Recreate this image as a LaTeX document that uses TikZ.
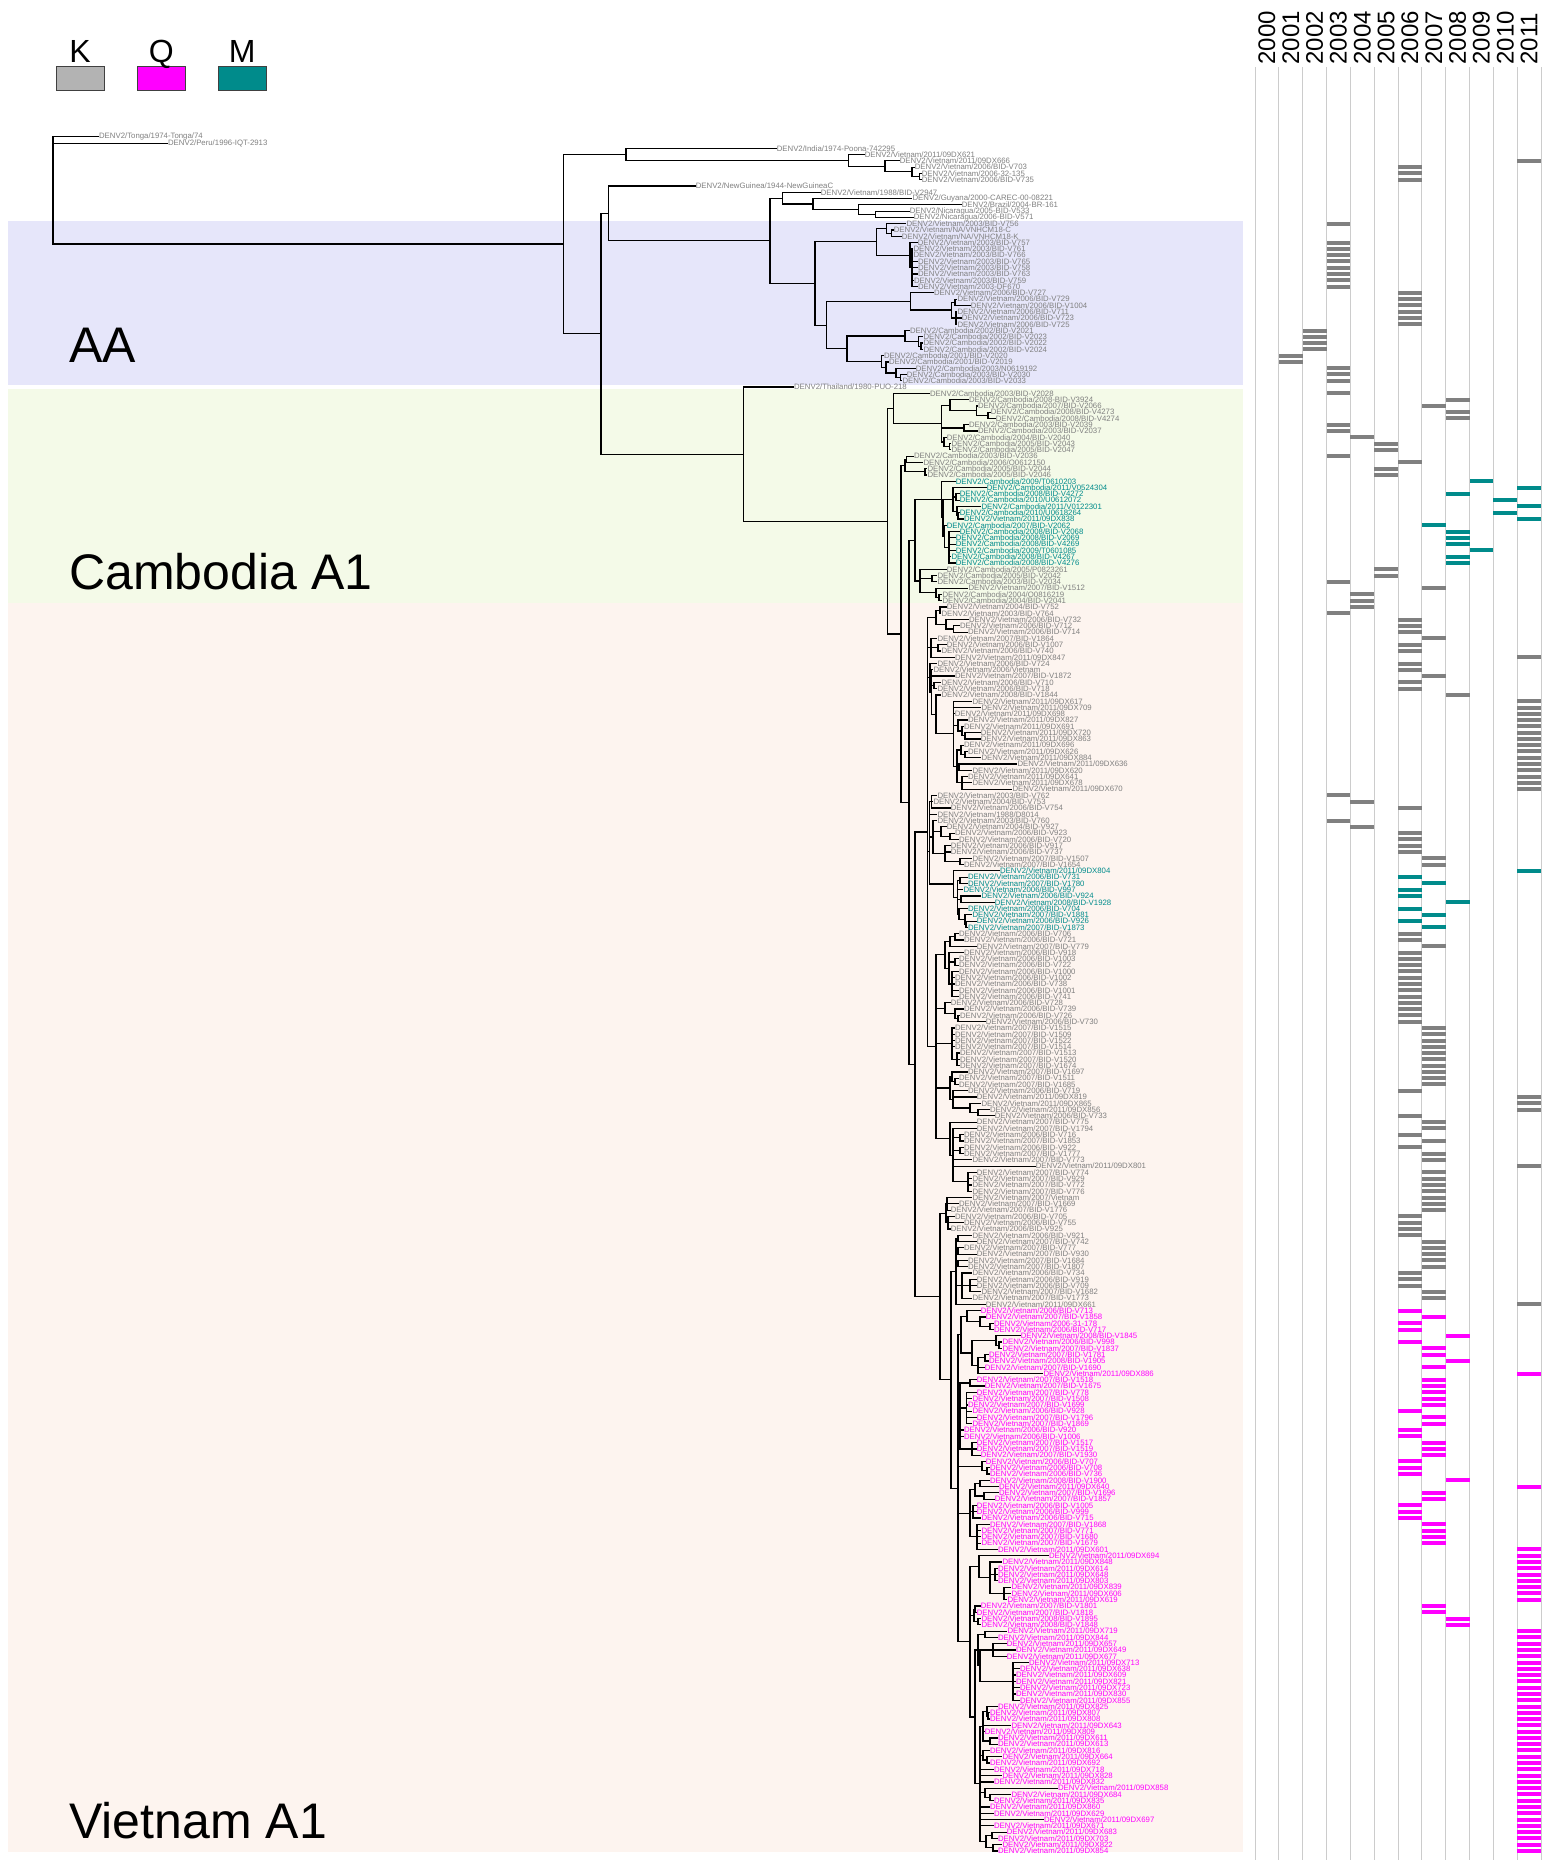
\documentclass[tikz,border=0pt]{standalone}
\usepackage{fontspec}
\setmainfont{Liberation Sans}
\usetikzlibrary{positioning}
\definecolor{colK}{RGB}{128,128,128}
\definecolor{colQ}{RGB}{255,0,255}
\definecolor{colM}{RGB}{0,139,139}
\definecolor{keygray}{RGB}{179,179,179}
\definecolor{bandAA}{RGB}{230,230,250}
\definecolor{bandCam}{RGB}{244,250,232}
\definecolor{bandVN}{RGB}{253,244,239}
\begin{document}
\begin{tikzpicture}[x=0.5pt,y=-0.5pt,declare function={Y(\n)=142.017+6.283*\n;},branch/.style={line width=0.6pt,line cap=rect},tiplab/.style={anchor=west,inner sep=0.2pt,font=\fontsize{3.9}{4}\selectfont},yearline/.style={draw=black!20,line width=0.5pt},yearlab/.style={rotate=90,anchor=west,inner sep=0pt,font=\fontsize{12}{12}\selectfont},keybox/.style={draw=black!75,line width=0.5pt,minimum width=24pt,minimum height=12pt,inner sep=0pt},keylab/.style={inner sep=0pt,font=\fontsize{16}{16}\selectfont},clade/.style={anchor=base west,inner sep=0pt,font=\fontsize{25}{25}\selectfont}]
\useasboundingbox (0,0) rectangle (1551,1860);
\fill[white] (0,0) rectangle (1551,1860);
\fill[bandAA] (8,220.7) rectangle (1243,385);
\fill[bandCam] (8,389) rectangle (1243,603);
\fill[bandVN] (8,603) rectangle (1243,1852);
\node[clade] (lblAA) at (69,362) {AA};
\node[clade] (lblCam) at (69,589) {Cambodia A1};
\node[clade] (lblVN) at (69,1838) {Vietnam A1};
\node[keybox,fill=keygray] (boxK) at (80,78.7) {};
\node[keybox,fill=colQ] (boxQ) at (161.2,78.7) {};
\node[keybox,fill=colM] (boxM) at (242.2,78.7) {};
\node[keylab,above=2pt of boxK,anchor=base] (keyK) {K};
\node[keylab,above=2pt of boxQ,anchor=base] (keyQ) {Q};
\node[keylab,above=2pt of boxM,anchor=base] (keyM) {M};
\foreach \k in {0,...,12} \draw[yearline] ({1255+23.833*\k},67) -- ({1255+23.833*\k},1860);
\foreach \yy [count=\k from 0] in {2000,...,2011} \node[yearlab] (yr\yy) at ({1266.9+23.833*\k},65) {\yy};
\node[tiplab,text=colK] (tTonga) at (98.3,136.5) {DENV2/Tonga/1974-Tonga/74};
\node[tiplab,text=colK] (tPeru) at (167.3,143.5) {DENV2/Peru/1996-IQT-2913};
\draw[branch] (53,136.5) -- (tTonga.west); \draw[branch] (53,143.5) -- (tPeru.west);
\draw[branch] (53,136.5) -- (53,{Y(16.245)});
\foreach \nx/\nt/\nb/\np in {626/1/2.9375/563.6,848.6/2/3.875/626,885/3/4.75/848.6,912/4/5.5/885,919.3/5/6/912,563.6/1.97/30.52/53,601/11.36/49.68/563.6,608.6/7/15.72/601,770/8.9375/22.51/608.6,782.5/8/9.875/770,812.9/9/10.75/782.5,858.6/10/11.5/812.9,875.4/11/12/858.6,815/15.875/29.14/770,876.7/13.75/18/815,886.7/13/14.5/876.7,891.7/14/15/886.7,910/16/20/876.7,912/17/23/910,826.6/25.375/32.906/815,910.7/24/26.75/826.6,951.7/25.5/28/910.7,955/25/26/951.7,956/27/29/951.7,847/30.875/34.9375/826.6,905/30/31.75/847,918.3/31/32.5/905,921/32/33/918.3,881.7/34/35.875/847,886/35/36.75/881.7,896/36/37.5/886,900.7/37/38/896,743.3/39/60.35/601,887.3/42.4/78.3/743.3,893.3/40/44.81/887.3,941.7/41.875/47.75/893.3,950/41/42.75/941.7,976.7/42/43.5/950,988/43/44/976.7,964/45/46/941.7,944/47/48.5/941.7,949.3/48/49/944,901/51.5/105.1/887.3,905/50.5/52.5/901,906.7/50/51/905,925/52/53/905,909/63.39/146.78/901,915/56.9/69.875/909,941.7/54/59.81/915,943/56.875/62.75/941.7,953/55/58.75/943,956/56/57/953,957/58/59.5/953,958/59/60/957,944.5/61/64.5/943,949/62/67/944.5,920/68/71.75/915,932/69/70/920,936/71/72.5/920,939/72/73/936,915/109.81/183.75/909,927.3/75.625/144/915,936/74.5/76.75/927.3,940/74/75/936,946/76/77.5/936,953.3/77/78/946,931/79/82/927.3,938/80/81/931,930/83/87.55/927.3,931.7/84/91.1/930,934/86/87/931.7,936/88/94.19/931.7,953.3/89/99.375/936,958/92/93.75/953.3,962/93/94.5/958,965/94/95/962,957/96.75/102/953.3,961/96/97.5/957,965/97/98/961,959/99/100/957,962/101/103/957,929.5/107.81/118.1/927.3,929.8/105/110.625/929.5,931.5/104/106/929.8,933/108/113.25/929.8,941/109/110.5/933,950/110/111/941,945/112/114.5/933,960/114/115/945,953.3/116/120.19/929.5,957.3/117.5/122.875/953.3,960/117/118/957.3,961/120/121/957.3,959/122/123.75/957.3,965/123/124.5/959,966/124/125/965,936/129.375/158.625/927.3,945/127.25/131.5/936,950/126.5/128/945,955/126/127/950,949/129/134/945,955/130/131/949,952/132/136/949,945/137/138.75/936,955/138/139.5/945,958/139/140/955,952/141/146/936,957/145/147/952,950/148.75/152.375/936,952/148/149.5/950,955/149/150/952,953/151/153.75/950,970/153/154.5/953,978/154/155/970,950/156/161.25/936,953/157/165.5/950,960/158/159/953,960/160/161/953,968/164/167/953,940/170.5/197/915,946/169/172/940,947/168/170/946,948/171/173/946,951/179.75/214.26/940,956/174.5/185/951,958/174/175/956,958/176/177/956,958/178/179/956,962/180/184/956,970/181/183/962,958/189.81/238.7/951,961/186.875/192.75/958,967/186/187.75/961,980/187/188.5/967,990/188/189/980,972/190.75/194.75/961,996/190/191.5/972,999/191/192/996,978/193.5/196/972,985/193/194/978,960/197.5/208/958,970/197/198/960,966.5/199/204/960,972/207/209/960,982/210/211.5/958,987/211/212/982,970/214.5/222/958,975/213.5/215.5/970,980/213/214/975,984/215/216/975,973/217/219/970,977/220/224/970,970/226.75/250.66/958,979/225/228.5/970,990/226/231/979,995/227/229/990,1004/230/232/990,974/233.5/235.5/970,975/233/234/974,978/235/236/974,975/240/261.31/970,978/237.5/242.5/975,985/237/238/978,980/240/245/978,993/239/241/980,1013/242/248/980,980/252.125/270.5/975,983/249.75/254.5/980,987/249/250.5/983,988/250/251/987,990/254/255/983,983/256/257.5/980,987/257/258/983,985/262/263.5/980,990/263/264/985,986/269.5/271.5/980,992/269/270/986,993/271/272/986}{
\draw[branch] (\nx,{Y(\nt)}) -- (\nx,{Y(\nb)});
\draw[branch] (\np,{Y((\nt+\nb)/2)}) -- (\nx,{Y((\nt+\nb)/2)});
}
\foreach \i/\tx/\px/\yr/\kind/\lab in {1/776/626/0/K/{India/1974-Poona-742295},2/864/848.6/0/K/{Vietnam/2011/09DX621},3/899/885/2011/K/{Vietnam/2011/09DX666},4/914/912/2006/K/{Vietnam/2006/BID-V703},5/921/919.3/2006/K/{Vietnam/2006-32-135},6/921/919.3/2006/K/{Vietnam/2006/BID-V735},7/695/608.6/0/K/{NewGuinea/1944-NewGuineaC},8/820/782.5/0/K/{Vietnam/1988/BID-V2947},9/911.8/812.9/0/K/{Guyana/2000-CAREC-00-08221},10/961/858.6/0/K/{Brazil/2004-BR-161},11/909/875.4/0/K/{Nicaragua/2005-BID-V533},12/913/875.4/0/K/{Nicaragua/2006-BID-V571},13/905.7/886.7/2003/K/{Vietnam/2003/BID-V756},14/893/891.7/0/K/{Vietnam/NA/VNHCM18-C},15/901/891.7/0/K/{Vietnam/NA/VNHCM18-K},16/917/910/2003/K/{Vietnam/2003/BID-V757},17/912.7/912/2003/K/{Vietnam/2003/BID-V761},18/912.7/912/2003/K/{Vietnam/2003/BID-V766},19/917.3/912/2003/K/{Vietnam/2003/BID-V765},20/917.3/912/2003/K/{Vietnam/2003/BID-V758},21/917.3/912/2003/K/{Vietnam/2003/BID-V763},22/913.3/912/2003/K/{Vietnam/2003/BID-V759},23/917.3/912/2003/K/{Vietnam/2003-DF670},24/933.3/910.7/2006/K/{Vietnam/2006/BID-V727},25/956.7/955/2006/K/{Vietnam/2006/BID-V729},26/970/955/2006/K/{Vietnam/2006/BID-V1004},27/956.7/956/2006/K/{Vietnam/2006/BID-V711},28/961/956/2006/K/{Vietnam/2006/BID-V723},29/956.7/956/2006/K/{Vietnam/2006/BID-V725},30/909.3/905/2002/K/{Cambodia/2002/BID-V2021},31/922.7/918.3/2002/K/{Cambodia/2002/BID-V2023},32/922.7/921/2002/K/{Cambodia/2002/BID-V2022},33/922.7/921/2002/K/{Cambodia/2002/BID-V2024},34/883.3/881.7/2001/K/{Cambodia/2001/BID-V2020},35/888.3/886/2001/K/{Cambodia/2001/BID-V2019},36/915/896/2003/K/{Cambodia/2003/N0619192},37/906/900.7/2003/K/{Cambodia/2003/BID-V2030},38/901.7/900.7/2003/K/{Cambodia/2003/BID-V2033},39/793.3/743.3/0/K/{Thailand/1980-PUO-218},40/929.3/893.3/2003/K/{Cambodia/2003/BID-V2028},41/968.3/950/2008/K/{Cambodia/2008-BID-V3924},42/977.3/976.7/2007/K/{Cambodia/2007/BID-V2066},43/990/988/2008/K/{Cambodia/2008/BID-V4273},44/995/988/2008/K/{Cambodia/2008/BID-V4274},45/968.3/964/2003/K/{Cambodia/2003/BID-V2039},46/977.3/964/2003/K/{Cambodia/2003/BID-V2037},47/946/944/2004/K/{Cambodia/2004/BID-V2040},48/950.7/949.3/2005/K/{Cambodia/2005/BID-V2043},49/950.7/949.3/2005/K/{Cambodia/2005/BID-V2047},50/913.3/906.7/2003/K/{Cambodia/2003/BID-V2036},51/922.7/906.7/2006/K/{Cambodia/2006/O0612150},52/926.7/925/2005/K/{Cambodia/2005/BID-V2044},53/926.7/925/2005/K/{Cambodia/2005/BID-V2046},54/955/941.7/2009/M/{Cambodia/2009/T0610203},55/986/953/2011/M/{Cambodia/2011/V0524304},56/959/956/2008/M/{Cambodia/2008/BID-V4272},57/959/956/2010/M/{Cambodia/2010/U0612072},58/980.7/957/2011/M/{Cambodia/2011/V0122301},59/959/958/2010/M/{Cambodia/2010/U0618264},60/963.3/958/2011/M/{Vietnam/2011/09DX838},61/946/944.5/2007/M/{Cambodia/2007/BID-V2062},62/959/949/2008/M/{Cambodia/2008/BID-V2068},63/955/949/2008/M/{Cambodia/2008/BID-V2069},64/955/949/2008/M/{Cambodia/2008/BID-V4269},65/955/949/2009/M/{Cambodia/2009/T0601085},66/950.7/949/2008/M/{Cambodia/2008/BID-V4267},67/955/949/2008/M/{Cambodia/2008/BID-V4276},68/946/920/2005/K/{Cambodia/2005/P0823261},69/936.7/932/2005/K/{Cambodia/2005/BID-V2042},70/936.7/932/2003/K/{Cambodia/2003/BID-V2034},71/967.7/936/2007/K/{Vietnam/2007/BID-V1512},72/941.7/939/2004/K/{Cambodia/2004/O0816219},73/941.7/939/2004/K/{Cambodia/2004/BID-V2041},74/946/940/2004/K/{Vietnam/2004/BID-V752},75/940.7/940/2003/K/{Vietnam/2003/BID-V764},76/968.3/946/2006/K/{Vietnam/2006/BID-V732},77/959.3/953.3/2006/K/{Vietnam/2006/BID-V712},78/967.3/953.3/2006/K/{Vietnam/2006/BID-V714},79/936.7/931/2007/K/{Vietnam/2007/BID-V1864},80/946/938/2006/K/{Vietnam/2006/BID-V1007},81/940.7/938/2006/K/{Vietnam/2006/BID-V740},82/954.3/931/2011/K/{Vietnam/2011/09DX847},83/936.7/930/2006/K/{Vietnam/2006/BID-V724},84/932.7/931.7/2006/K/{Vietnam/2006/Vietnam},85/954.3/931.7/2007/K/{Vietnam/2007/BID-V1872},86/940.7/934/2006/K/{Vietnam/2006/BID-V710},87/936.7/934/2006/K/{Vietnam/2006/BID-V718},88/940.7/936/2008/K/{Vietnam/2008/BID-V1844},89/971.7/953.3/2011/K/{Vietnam/2011/09DX617},90/980.7/953.3/2011/K/{Vietnam/2011/09DX709},91/954/953.3/2011/K/{Vietnam/2011/09DX698},92/967.3/958/2011/K/{Vietnam/2011/09DX827},93/963.3/962/2011/K/{Vietnam/2011/09DX691},94/980/965/2011/K/{Vietnam/2011/09DX720},95/980/965/2011/K/{Vietnam/2011/09DX863},96/963.3/961/2011/K/{Vietnam/2011/09DX696},97/967.3/965/2011/K/{Vietnam/2011/09DX626},98/980.7/965/2011/K/{Vietnam/2011/09DX884},99/1016.7/959/2011/K/{Vietnam/2011/09DX636},100/971.7/959/2011/K/{Vietnam/2011/09DX620},101/967.3/962/2011/K/{Vietnam/2011/09DX641},102/971.7/962/2011/K/{Vietnam/2011/09DX678},103/1011.7/962/2011/K/{Vietnam/2011/09DX670},104/936.7/931.5/2003/K/{Vietnam/2003/BID-V762},105/932.7/931.5/2004/K/{Vietnam/2004/BID-V753},106/950/931.5/2006/K/{Vietnam/2006/BID-V754},107/936.7/929.8/0/K/{Vietnam/1988/D8014},108/936.7/933/2003/K/{Vietnam/2003/BID-V760},109/946/941/2004/K/{Vietnam/2004/BID-V927},110/954.3/950/2006/K/{Vietnam/2006/BID-V923},111/958.3/950/2006/K/{Vietnam/2006/BID-V720},112/950/945/2006/K/{Vietnam/2006/BID-V917},113/950/945/2006/K/{Vietnam/2006/BID-V737},114/971.7/960/2007/K/{Vietnam/2007/BID-V1507},115/963.3/960/2007/K/{Vietnam/2007/BID-V1654},116/999.3/953.3/2011/M/{Vietnam/2011/09DX804},117/967.3/960/2006/M/{Vietnam/2006/BID-V731},118/967.3/960/2007/M/{Vietnam/2007/BID-V1780},119/962.7/957.3/2006/M/{Vietnam/2006/BID-V997},120/980.7/961/2006/M/{Vietnam/2006/BID-V924},121/994/961/2008/M/{Vietnam/2008/BID-V1928},122/967.3/959/2006/M/{Vietnam/2006/BID-V704},123/971.7/965/2007/M/{Vietnam/2007/BID-V1881},124/976/966/2006/M/{Vietnam/2006/BID-V926},125/967.3/966/2007/M/{Vietnam/2007/BID-V1873},126/958.3/955/2006/K/{Vietnam/2006/BID-V706},127/963.3/955/2006/K/{Vietnam/2006/BID-V721},128/976/950/2007/K/{Vietnam/2007/BID-V779},129/963.3/949/2006/K/{Vietnam/2006/BID-V918},130/958.3/955/2006/K/{Vietnam/2006/BID-V1003},131/958.3/955/2006/K/{Vietnam/2006/BID-V722},132/958.3/952/2006/K/{Vietnam/2006/BID-V1000},133/954.3/952/2006/K/{Vietnam/2006/BID-V1002},134/954.3/952/2006/K/{Vietnam/2006/BID-V738},135/958.3/952/2006/K/{Vietnam/2006/BID-V1001},136/958.3/952/2006/K/{Vietnam/2006/BID-V741},137/950/945/2006/K/{Vietnam/2006/BID-V728},138/963.3/955/2006/K/{Vietnam/2006/BID-V739},139/959.3/958/2006/K/{Vietnam/2006/BID-V726},140/985/958/2006/K/{Vietnam/2006/BID-V730},141/954.3/952/2007/K/{Vietnam/2007/BID-V1515},142/954.3/952/2007/K/{Vietnam/2007/BID-V1509},143/954.3/952/2007/K/{Vietnam/2007/BID-V1522},144/954.3/952/2007/K/{Vietnam/2007/BID-V1514},145/959.3/957/2007/K/{Vietnam/2007/BID-V1513},146/959.3/957/2007/K/{Vietnam/2007/BID-V1520},147/959.3/957/2007/K/{Vietnam/2007/BID-V1674},148/967.3/952/2007/K/{Vietnam/2007/BID-V1697},149/958.3/955/2007/K/{Vietnam/2007/BID-V1511},150/958.3/955/2007/K/{Vietnam/2007/BID-V1685},151/967.3/953/2006/K/{Vietnam/2006/BID-V719},152/976/953/2011/K/{Vietnam/2011/09DX819},153/980.7/970/2011/K/{Vietnam/2011/09DX865},154/989.3/978/2011/K/{Vietnam/2011/09DX856},155/994/978/2006/K/{Vietnam/2006/BID-V733},156/976/950/2007/K/{Vietnam/2007/BID-V775},157/976/953/2007/K/{Vietnam/2007/BID-V1794},158/963.3/960/2006/K/{Vietnam/2006/BID-V716},159/963.3/960/2007/K/{Vietnam/2007/BID-V1853},160/963.3/960/2006/K/{Vietnam/2006/BID-V922},161/963.3/960/2007/K/{Vietnam/2007/BID-V1777},162/971.7/953/2007/K/{Vietnam/2007/BID-V773},163/1035/953/2011/K/{Vietnam/2011/09DX801},164/976/968/2007/K/{Vietnam/2007/BID-V774},165/971.7/968/2007/K/{Vietnam/2007/BID-V929},166/971.7/968/2007/K/{Vietnam/2007/BID-V772},167/971.7/968/2007/K/{Vietnam/2007/BID-V776},168/971.7/947/2007/K/{Vietnam/2007/Vietnam},169/958.3/947/2007/K/{Vietnam/2007/BID-V1669},170/950/947/2007/K/{Vietnam/2007/BID-V1776},171/954.3/948/2006/K/{Vietnam/2006/BID-V705},172/963.3/948/2006/K/{Vietnam/2006/BID-V755},173/950/948/2006/K/{Vietnam/2006/BID-V925},174/971.7/958/2006/K/{Vietnam/2006/BID-V921},175/976/958/2007/K/{Vietnam/2007/BID-V742},176/963.3/958/2007/K/{Vietnam/2007/BID-V777},177/976/958/2007/K/{Vietnam/2007/BID-V930},178/967.3/958/2007/K/{Vietnam/2007/BID-V1684},179/967.3/958/2007/K/{Vietnam/2007/BID-V1807},180/971.7/962/2006/K/{Vietnam/2006/BID-V734},181/976/970/2006/K/{Vietnam/2006/BID-V919},182/976/970/2006/K/{Vietnam/2006/BID-V709},183/980.7/970/2007/K/{Vietnam/2007/BID-V1682},184/971.7/962/2007/K/{Vietnam/2007/BID-V1773},185/985/956/2011/K/{Vietnam/2011/09DX661},186/980/967/2006/Q/{Vietnam/2006/BID-V713},187/985/980/2007/Q/{Vietnam/2007/BID-V1858},188/993.3/990/2006/Q/{Vietnam/2006-31-178},189/993.3/990/2006/Q/{Vietnam/2006/BID-V717},190/1020/996/2008/Q/{Vietnam/2008/BID-V1845},191/1001.7/999/2006/Q/{Vietnam/2006/BID-V998},192/1001.7/999/2007/Q/{Vietnam/2007/BID-V1837},193/988.3/985/2007/Q/{Vietnam/2007/BID-V1781},194/988.3/985/2008/Q/{Vietnam/2008/BID-V1905},195/984/978/2007/Q/{Vietnam/2007/BID-V1690},196/1042.7/978/2011/Q/{Vietnam/2011/09DX886},197/976/970/2007/Q/{Vietnam/2007/BID-V1518},198/984/970/2007/Q/{Vietnam/2007/BID-V1675},199/976/966.5/2007/Q/{Vietnam/2007/BID-V778},200/971.7/966.5/2007/Q/{Vietnam/2007/BID-V1508},201/967.3/966.5/2007/Q/{Vietnam/2007/BID-V1699},202/971.7/966.5/2006/Q/{Vietnam/2006/BID-V928},203/976/966.5/2007/Q/{Vietnam/2007/BID-V1796},204/971.7/966.5/2007/Q/{Vietnam/2007/BID-V1869},205/963.3/960/2006/Q/{Vietnam/2006/BID-V920},206/963.3/960/2006/Q/{Vietnam/2006/BID-V1006},207/976/972/2007/Q/{Vietnam/2007/BID-V1517},208/976/972/2007/Q/{Vietnam/2007/BID-V1519},209/980/972/2007/Q/{Vietnam/2007/BID-V1930},210/985/982/2006/Q/{Vietnam/2006/BID-V707},211/989.3/987/2006/Q/{Vietnam/2006/BID-V708},212/989.3/987/2006/Q/{Vietnam/2006/BID-V736},213/989.3/980/2008/Q/{Vietnam/2008/BID-V1900},214/998.3/980/2011/Q/{Vietnam/2011/09DX640},215/998.3/984/2007/Q/{Vietnam/2007/BID-V1696},216/994/984/2007/Q/{Vietnam/2007/BID-V1857},217/976/973/2006/Q/{Vietnam/2006/BID-V1005},218/976/973/2006/Q/{Vietnam/2006/BID-V999},219/980.7/973/2006/Q/{Vietnam/2006/BID-V715},220/989.3/977/2007/Q/{Vietnam/2007/BID-V1868},221/980.7/977/2007/Q/{Vietnam/2007/BID-V771},222/980.7/977/2007/Q/{Vietnam/2007/BID-V1680},223/980.7/977/2007/Q/{Vietnam/2007/BID-V1679},224/997.3/977/2011/Q/{Vietnam/2011/09DX601},225/1048.3/979/2011/Q/{Vietnam/2011/09DX694},226/1001.7/990/2011/Q/{Vietnam/2011/09DX848},227/997.3/995/2011/Q/{Vietnam/2011/09DX614},228/997.3/995/2011/Q/{Vietnam/2011/09DX648},229/997.3/995/2011/Q/{Vietnam/2011/09DX803},230/1010.7/1004/2011/Q/{Vietnam/2011/09DX839},231/1010.7/1004/2011/Q/{Vietnam/2011/09DX606},232/1006.7/1004/2011/Q/{Vietnam/2011/09DX619},233/980/975/2007/Q/{Vietnam/2007/BID-V1801},234/976/975/2007/Q/{Vietnam/2007/BID-V1818},235/980.7/978/2008/Q/{Vietnam/2008/BID-V1895},236/980.7/978/2008/Q/{Vietnam/2008/BID-V1848},237/1006.7/985/2011/Q/{Vietnam/2011/09DX719},238/997.3/985/2011/Q/{Vietnam/2011/09DX844},239/1006/993/2011/Q/{Vietnam/2011/09DX657},240/1015.3/993/2011/Q/{Vietnam/2011/09DX649},241/1006/993/2011/Q/{Vietnam/2011/09DX677},242/1028.3/1013/2011/Q/{Vietnam/2011/09DX713},243/1019.3/1013/2011/Q/{Vietnam/2011/09DX638},244/1015.3/1013/2011/Q/{Vietnam/2011/09DX609},245/1015.3/1013/2011/Q/{Vietnam/2011/09DX821},246/1019.3/1013/2011/Q/{Vietnam/2011/09DX723},247/1015.3/1013/2011/Q/{Vietnam/2011/09DX830},248/1019.3/1013/2011/Q/{Vietnam/2011/09DX855},249/997.3/987/2011/Q/{Vietnam/2011/09DX825},250/989.3/988/2011/Q/{Vietnam/2011/09DX807},251/989.3/988/2011/Q/{Vietnam/2011/09DX808},252/1010.7/983/2011/Q/{Vietnam/2011/09DX643},253/984/983/2011/Q/{Vietnam/2011/09DX809},254/997.3/990/2011/Q/{Vietnam/2011/09DX611},255/997.3/990/2011/Q/{Vietnam/2011/09DX613},256/989.3/983/2011/Q/{Vietnam/2011/09DX816},257/1001.7/987/2011/Q/{Vietnam/2011/09DX664},258/989.3/987/2011/Q/{Vietnam/2011/09DX692},259/993.3/980/2011/Q/{Vietnam/2011/09DX718},260/1001.7/980/2011/Q/{Vietnam/2011/09DX828},261/993.3/980/2011/Q/{Vietnam/2011/09DX832},262/1057.3/985/2011/Q/{Vietnam/2011/09DX858},263/1010.7/990/2011/Q/{Vietnam/2011/09DX684},264/993.3/990/2011/Q/{Vietnam/2011/09DX835},265/989.3/980/2011/Q/{Vietnam/2011/09DX860},266/993.3/980/2011/Q/{Vietnam/2011/09DX629},267/1043.3/980/2011/Q/{Vietnam/2011/09DX697},268/993.3/980/2011/Q/{Vietnam/2011/09DX671},269/1006/992/2011/Q/{Vietnam/2011/09DX683},270/997.3/992/2011/Q/{Vietnam/2011/09DX703},271/1001.7/993/2011/Q/{Vietnam/2011/09DX822},272/997.3/993/2011/Q/{Vietnam/2011/09DX854}}{
\node[tiplab,text=col\kind] (t\i) at (\tx,{Y(\i)}) {DENV2/\lab};
\draw[branch] (\px,{Y(\i)}) -- (t\i.west);
\ifnum\yr>0 \fill[col\kind] ({1255+23.833*(\yr-2000)},{Y(\i)-2}) rectangle +(23.833,4); \fi
}
\end{tikzpicture}
\end{document}
